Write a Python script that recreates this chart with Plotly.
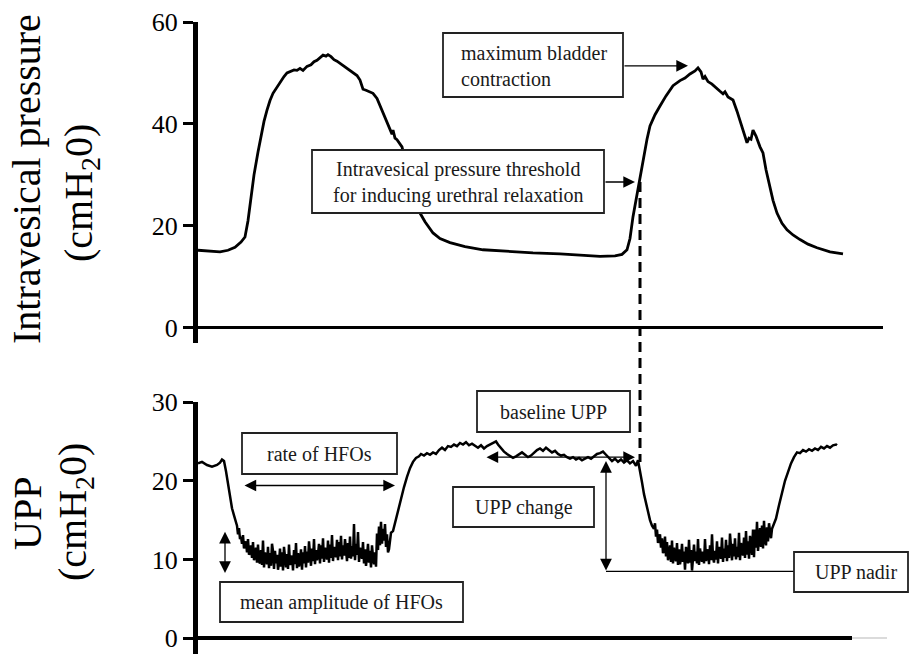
import plotly.graph_objects as go
from plotly.subplots import make_subplots

# ---------------- data ----------------
# Intravesical pressure (cmH2O) vs time (s)
ivp_time = [1.5, 7.5, 12.5, 16.5, 20, 23, 25, 26.5, 28, 29.5, 31.5, 33, 34.5, 36, 37.5, 39, 41, 42.5,
            44.5, 46, 48, 49.5, 51, 52.5, 54, 56, 58, 59.5, 61, 62.5, 64, 65.5, 66.5, 68, 69.5, 71,
            72.5, 74.5, 76, 77.5, 79.5, 81, 82.5, 84, 85.5, 87.5, 89, 91, 92.5, 94, 95.5, 97.5, 98.5,
            99, 100, 101, 102.5, 103.5, 105, 106.5, 108.5, 110.5, 112.5, 115, 119, 122.5, 127.5, 135,
            144, 155, 169, 182.5, 192.5, 202.5, 210, 213.5, 216, 217.5, 219, 220.5, 221.5, 223, 224,
            226, 227.5, 230, 232.5, 235.5, 239, 242.5, 245, 247.5, 250, 251.5, 253, 254, 255, 256.5,
            258.5, 260.5, 262.5, 264, 265, 266.5, 269, 271, 273, 275, 276, 277, 278, 279, 280.5,
            282.5, 284, 285.5, 287.5, 289, 291, 293.5, 296, 299, 302.5, 306.5, 311, 317.5, 324]
ivp_value = [15.2, 15.0, 14.9, 15.2, 15.8, 16.8, 17.8, 21.0, 25.5, 30.0, 34.5, 37.5, 40.5, 42.7, 44.6,
             46.0, 47.3, 48.2, 49.3, 50.0, 50.4, 50.6, 50.5, 50.9, 50.5, 51.3, 51.6, 52.2, 52.5, 53.0,
             53.5, 53.3, 53.6, 53.2, 52.6, 52.3, 51.9, 51.4, 51.0, 50.6, 50.0, 49.5, 48.6, 46.8, 46.6,
             46.3, 46.0, 45.0, 43.6, 42.2, 40.8, 39.2, 38.0, 38.8, 37.2, 36.9, 35.9, 35.5, 33.0, 30.0,
             27.0, 24.5, 22.5, 20.8, 18.6, 17.5, 16.7, 15.9, 15.3, 15.0, 14.7, 14.5, 14.2, 14.0, 14.1,
             14.4, 15.3, 17.5, 21.8, 25.0, 27.6, 31.0, 33.0, 37.0, 39.6, 41.8, 43.5, 45.5, 47.5, 48.5,
             49.0, 49.8, 50.4, 51.0, 50.2, 48.8, 49.3, 48.3, 47.8, 47.0, 46.4, 45.9, 46.3, 45.3, 44.7,
             42.5, 40.0, 37.5, 36.3, 37.2, 37.0, 38.8, 37.6, 35.5, 34.3, 31.0, 27.6, 25.0, 22.5, 20.5,
             19.2, 18.2, 17.3, 16.4, 15.7, 14.9, 14.5]

# Urethral perfusion pressure (cmH2O): smooth parts with explicit times
upp_pre_time = [1.5, 3.5, 6, 8.5, 11, 12.5, 13.5, 14.5, 15.5, 16.5, 17.5, 18.5, 19.5, 20.5]
upp_pre_value = [22.2, 22.4, 22.0, 21.8, 22.0, 22.3, 22.7, 22.5, 21.2, 19.6, 17.8, 16.5, 15.6, 14.8]

# HFO bursts, sampled every 0.5 s
hfo1_start = 21.0
hfo2_start = 230.0
sample_interval = 0.5
hfo1_value = [
    14.3, 13.2, 14.0, 12.6, 12.9, 12.0, 13.1, 11.4, 11.9, 12.3, 10.9, 12.6, 10.6, 10.9, 11.8, 10.2, 12.2, 9.9, 10.4, 11.5,
    9.6, 11.9, 9.8, 9.5, 11.2, 9.3, 12.4, 9.0, 10.9, 10.1, 9.4, 11.6, 8.9, 10.8, 9.2, 12.0, 11.1, 8.8, 11.1, 9.5,
    10.6, 8.7, 9.6, 11.4, 9.1, 10.9, 8.6, 11.6, 10.2, 9.0, 10.7, 8.8, 11.9, 9.3, 9.9, 10.5, 8.6, 11.2, 9.4, 12.1,
    8.9, 10.8, 9.1, 9.8, 11.3, 8.7, 10.9, 9.5, 11.7, 9.0, 11.0, 9.6, 12.3, 10.4, 9.2, 11.4, 9.8, 12.6, 9.4, 11.2,
    9.9, 10.6, 12.0, 9.5, 11.8, 10.1, 12.7, 9.7, 11.5, 10.8, 10.0, 12.4, 9.6, 11.9, 10.2, 13.1, 9.8, 11.6, 11.0, 10.3,
    12.5, 9.9, 12.2, 10.4, 13.0, 10.0, 11.8, 10.5, 12.6, 11.3, 9.8, 12.1, 10.2, 12.9, 10.1, 11.7, 10.4, 14.5, 9.9, 12.0,
    10.6, 13.5, 9.7, 11.5, 10.6, 10.1, 12.2, 9.5, 11.3, 9.2, 10.4, 12.0, 9.6, 11.1, 9.0, 11.8, 10.3, 9.4, 10.9, 9.1,
    13.3, 11.2, 14.2, 11.8, 14.8, 12.0, 13.9, 12.4, 14.5, 11.6, 13.2, 10.9, 11.3, 12.2, 13.4]

upp_mid_time = [99, 100.5, 102.5, 104.5, 106, 107.5, 109, 110.5, 112, 113, 114.5, 116, 117.5, 119, 120.5,
                122, 123.5, 125, 126.5, 128, 129.5, 131, 132.5, 134, 135.5, 137, 138.5, 140, 141.5, 143,
                144.5, 146, 147.5, 149, 150.5, 151.5, 153, 154.5, 156, 157.5, 159, 160.5, 162, 163.5,
                165, 166.5, 168, 169.5, 171, 172.5, 174, 175.5, 177, 178.5, 180, 181.5, 183, 184.5, 186,
                187.5, 189, 190.5, 192, 193.5, 195, 196.5, 198, 199.5, 201, 202.5, 204, 205.5, 207,
                208.5, 210, 211.5, 213, 214.5, 216, 217.5, 219, 220.5, 221.5, 222.5, 223.5, 224.5,
                225.5, 226.5, 227.5, 228.5, 229.5]
upp_mid_value = [13.6, 15.2, 17.1, 19.2, 20.5, 21.6, 22.4, 22.9, 23.1, 23.4, 23.2, 23.5, 23.3, 23.6, 23.4,
                 23.9, 24.2, 23.9, 24.4, 24.3, 24.6, 24.4, 24.8, 24.6, 24.9, 24.5, 24.7, 24.4, 24.2, 24.5,
                 24.1, 24.4, 24.6, 24.8, 25.0, 24.6, 24.1, 23.7, 23.4, 23.2, 22.9, 23.1, 23.4, 23.6, 23.3,
                 23.0, 23.2, 23.6, 23.9, 24.1, 23.8, 24.2, 23.9, 23.6, 23.8, 23.4, 23.2, 23.3, 23.0, 22.8,
                 23.0, 22.7, 22.9, 22.6, 22.8, 23.0, 22.8, 23.1, 23.4, 23.5, 23.7, 23.3, 22.9, 22.5, 22.8,
                 22.4, 22.7, 22.3, 22.6, 22.2, 22.5, 21.9, 22.6, 21.4, 19.8, 18.3, 17.1, 15.9, 15.0, 14.3,
                 13.9]

hfo2_value = [
    14.6, 12.9, 13.8, 12.1, 12.6, 13.2, 11.5, 12.7, 10.8, 11.3, 12.9, 10.4, 12.2, 9.9, 10.6, 11.8, 9.7, 12.4, 9.5, 11.5,
    10.3, 9.8, 12.1, 9.3, 11.3, 9.4, 10.2, 12.0, 9.7, 11.0, 8.7, 11.6, 10.4, 9.5, 12.5, 9.6, 11.2, 8.6, 10.1, 11.9,
    9.8, 11.0, 9.5, 12.6, 9.3, 11.4, 10.5, 9.7, 11.0, 9.5, 12.6, 9.8, 10.6, 11.3, 9.4, 11.8, 9.9, 13.2, 10.3, 9.6,
    11.1, 10.0, 12.3, 9.5, 11.6, 10.9, 10.1, 12.8, 9.7, 11.4, 10.2, 12.5, 9.8, 11.8, 10.2, 13.3, 11.0, 9.9, 12.0, 10.4,
    12.7, 10.0, 11.6, 10.3, 13.4, 9.9, 12.1, 11.2, 10.5, 12.8, 10.2, 13.6, 10.6, 12.3, 10.1, 13.0, 11.7, 10.6, 13.8, 10.3,
    13.8, 11.5, 14.8, 11.1, 12.6, 14.0, 11.6, 14.3, 11.4, 14.9, 12.5, 11.8, 14.1, 12.3, 14.6, 13.1, 12.7, 13.9, 14.3, 14.4]

upp_post_time = [290.5, 292, 293.5, 295, 296.5, 298, 299.5, 301, 302.5, 304, 305.5, 307, 308.5, 310,
                 311.5, 313, 314.5, 316, 317.5, 319, 320.5, 321]
upp_post_value = [15.2, 16.9, 18.6, 20.0, 21.1, 22.2, 23.0, 23.6, 23.5, 23.9, 23.7, 24.0, 23.8, 24.1,
                  23.9, 24.3, 24.1, 24.4, 24.2, 24.5, 24.6, 24.5]

ivp_ticks = [0, 20, 40, 60]
upp_ticks = [0, 10, 20, 30]

# annotation anchor values
threshold_time = 222.5
threshold_ivp = 28.6
max_contraction_time = 246.5
max_contraction_ivp = 51.4
baseline_upp = 23.0
nadir_upp = 8.5

# ---------------- assemble UPP trace ----------------
hfo1_time = [hfo1_start + i * sample_interval for i in range(len(hfo1_value))]
hfo2_time = [hfo2_start + i * sample_interval for i in range(len(hfo2_value))]
upp_time = upp_pre_time + hfo1_time + upp_mid_time + hfo2_time + upp_post_time
upp_value = upp_pre_value + hfo1_value + upp_mid_value + hfo2_value + upp_post_value

W, H = 909, 657
SERIF = "Liberation Serif, Times New Roman, serif"


def px(xp):
    return xp / W


def py(yp):
    return 1 - yp / H


fig = make_subplots(rows=2, cols=1)
fig.add_trace(go.Scatter(x=ivp_time, y=ivp_value, mode="lines",
                         line=dict(color="black", width=2.8), showlegend=False), row=1, col=1)
fig.add_trace(go.Scatter(x=upp_time, y=upp_value, mode="lines",
                         line=dict(color="black", width=2.5), showlegend=False), row=2, col=1)

yax_common = dict(ticks="outside", ticklen=10, tickwidth=3, tickcolor="black",
                  showline=True, linewidth=5, linecolor="black", showgrid=False,
                  zeroline=True, zerolinecolor="black", automargin=False,
                  tickfont=dict(family=SERIF, size=26, color="black"))

fig.update_layout(
    width=W, height=H, margin=dict(l=0, r=0, t=0, b=0, pad=0, autoexpand=False),
    paper_bgcolor="white", plot_bgcolor="white", showlegend=False,
    xaxis=dict(domain=[px(198), px(883)], range=[1.5, 344], visible=False, automargin=False),
    xaxis2=dict(domain=[px(198), px(852)], range=[1.5, 328.5], visible=False, automargin=False),
    yaxis=dict(domain=[py(343), py(22)], range=[-3, 60], tickvals=ivp_ticks,
               zerolinewidth=3, **yax_common),
    yaxis2=dict(domain=[py(654), py(402)], range=[-2, 30], tickvals=upp_ticks,
                zerolinewidth=3.5, **yax_common),
)

shapes = []
shapes.append(dict(type="line", xref="x", yref="paper", x0=threshold_time, x1=threshold_time,
                   y0=py(182), y1=py(462), line=dict(color="black", width=3, dash="10px,6px")))
shapes.append(dict(type="line", xref="paper", yref="paper", x0=px(852), x1=px(887),
                   y0=py(638), y1=py(638), line=dict(color="#cfcfcf", width=1.5)))
shapes.append(dict(type="line", xref="x2", yref="y2", x0=205.5, x1=299.5,
                   y0=nadir_upp, y1=nadir_upp, line=dict(color="black", width=1.3)))

boxes = [  # (left, top, right, bottom) in pixels
    (443, 33, 623, 97),
    (312, 150, 604, 213),
    (242, 433, 397, 474),
    (220, 582, 463, 622),
    (477, 391, 630, 432),
    (453, 487, 594, 527),
    (794, 552, 908, 592),
]
for l, t, r, b in boxes:
    shapes.append(dict(type="rect", xref="paper", yref="paper", x0=px(l), x1=px(r),
                       y0=py(b), y1=py(t), layer="above",
                       fillcolor="white", line=dict(color="#222", width=1.8)))
fig.update_layout(shapes=shapes)

TF = dict(family=SERIF, size=20, color="#1a1a1a")
texts = [
    ("maximum bladder<br>contraction", 459, 66, "left", "left"),
    ("Intravesical pressure threshold<br>for inducing urethral relaxation", 458, 182, "center", "center"),
    ("rate of HFOs", 319.5, 453.5, "center", "center"),
    ("mean amplitude of HFOs", 341.5, 602, "center", "center"),
    ("baseline UPP", 553.5, 411.5, "center", "center"),
    ("UPP change", 523.5, 507, "center", "center"),
    ("UPP nadir", 856, 572, "center", "center"),
]
for txt, x, y, xa, al in texts:
    fig.add_annotation(text=txt, x=px(x), y=py(y), xref="paper", yref="paper",
                       xanchor=xa, yanchor="middle", align=al, showarrow=False, font=TF)

TITLE = dict(family=SERIF, size=40, color="black")
titles = [
    ("Intravesical pressure", 27, 179),
    ("(cmH<sub>2</sub>0)", 81, 193),
    ("UPP", 27, 514),
    ("(cmH<sub>2</sub>0)", 75, 512),
]
for txt, x, y in titles:
    fig.add_annotation(text=txt, x=px(x), y=py(y), xref="paper", yref="paper", textangle=-90,
                       xanchor="center", yanchor="middle", showarrow=False, font=TITLE)

ARW = dict(showarrow=True, arrowhead=2, arrowsize=1.8, arrowwidth=1.3, arrowcolor="black", text="")
fig.add_annotation(x=max_contraction_time, y=max_contraction_ivp, ax=214, ay=max_contraction_ivp,
                   xref="x", yref="y", axref="x", ayref="y", **ARW)
fig.add_annotation(x=220, y=threshold_ivp, ax=204.5, ay=threshold_ivp,
                   xref="x", yref="y", axref="x", ayref="y", **ARW)
fig.add_annotation(x=100, y=19.4, ax=24, ay=19.4, xref="x2", yref="y2", axref="x2", ayref="y2",
                   arrowside="end+start", **ARW)
fig.add_annotation(x=15, y=8.3, ax=15, ay=13.7, xref="x2", yref="y2", axref="x2", ayref="y2",
                   arrowside="end+start", **ARW)
fig.add_annotation(x=220, y=baseline_upp, ax=145, ay=baseline_upp, xref="x2", yref="y2",
                   axref="x2", ayref="y2", arrowside="end+start", **ARW)
fig.add_annotation(x=205.5, y=8.6, ax=205.5, ay=22.7, xref="x2", yref="y2", axref="x2", ayref="y2",
                   arrowside="end+start", **ARW)

fig.write_html("out.html", config={"displayModeBar": False},
               post_script="document.body.style.margin='0';document.body.style.padding='0';")
